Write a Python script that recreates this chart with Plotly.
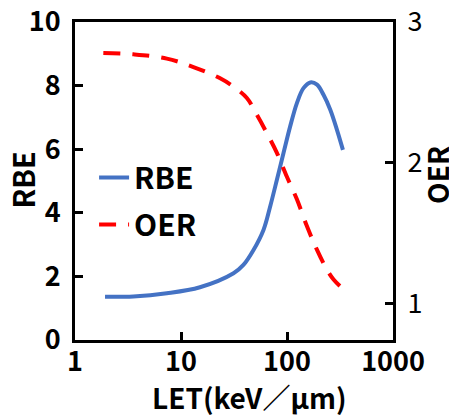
import plotly.graph_objects as go

# RBE curve (LET in keV/um)
rbe_let = [1.92, 3.55, 7.35, 15.1, 31.3, 38.8, 48.3, 60.0, 69.4, 80.3, 92.7, 107, 124, 143, 166, 192, 221, 256, 296, 337]
rbe_val = [1.36, 1.37, 1.47, 1.66, 2.10, 2.36, 2.83, 3.46, 4.20, 5.04, 5.88, 6.71, 7.45, 7.92, 8.10, 8.03, 7.71, 7.24, 6.61, 5.98]

# OER curve
oer_let = [1.85, 3.55, 7.35, 13.1, 23.4, 31.3, 41.8, 52.0, 64.6, 80.3, 99.8, 124, 154, 192, 238, 275, 330]
oer_val = [2.78, 2.77, 2.74, 2.68, 2.60, 2.54, 2.46, 2.34, 2.21, 2.07, 1.90, 1.74, 1.55, 1.38, 1.24, 1.17, 1.11]

x_ticks = [1, 10, 100, 1000]
rbe_ticks = [0, 2, 4, 6, 8, 10]
oer_ticks = [1, 2, 3]

FONT = "Noto Sans CJK JP"
W, H = 449, 417
ml, mr, mt, mb = 75, 56, 22, 77

fig = go.Figure()
fig.add_trace(go.Scatter(x=rbe_let, y=rbe_val, mode="lines", name="RBE",
                         line=dict(color="#4472C4", width=4, shape="spline"),
                         legendgroup="a"))
fig.add_trace(go.Scatter(x=oer_let, y=oer_val, mode="lines", name="OER", yaxis="y2",
                         line=dict(color="#FF0000", width=4, dash="17px,12px", shape="spline"),
                         legendgroup="b"))

axis_common = dict(showgrid=False, zeroline=False, showline=True, linecolor="black",
                   linewidth=3, ticks="inside", ticklen=8, tickwidth=3, tickcolor="black",
                   automargin=False)

fig.update_layout(
    template="none",
    width=W, height=H,
    margin=dict(l=ml, r=mr, t=mt, b=mb, autoexpand=False),
    plot_bgcolor="white", paper_bgcolor="white",
    font=dict(family=FONT, color="black"),
    showlegend=True,
    legend=dict(x=0.06, y=0.437, xanchor="left", yanchor="middle",
                bgcolor="rgba(0,0,0,0)", font=dict(size=30, family=FONT, weight="bold"),
                tracegroupgap=5, itemwidth=30),
    xaxis=dict(type="log", range=[0, 3], tickvals=x_ticks, ticktext=[str(v) for v in x_ticks],
               mirror=True, tickfont=dict(size=27, family=FONT, weight="bold"),
               ticklabelstandoff=-4, **axis_common),
    yaxis=dict(range=[0, 10], tickvals=rbe_ticks, tickfont=dict(size=27, family=FONT, weight="bold"),
               ticklabelstandoff=6, **axis_common),
    yaxis2=dict(range=[0.74, 3], tickvals=oer_ticks, overlaying="y", side="right",
                tickfont=dict(size=27, family=FONT), ticklabelstandoff=6, **axis_common),
    annotations=[
        dict(text="LET(keV／μm)", xref="paper", yref="paper", x=0.55, y=-0.178,
             xanchor="center", yanchor="middle", showarrow=False,
             font=dict(size=28, family=FONT, weight="bold")),
        dict(text="RBE", xref="paper", yref="paper", x=-0.168, y=0.503, textangle=-90,
             xanchor="center", yanchor="middle", showarrow=False,
             font=dict(size=29, family=FONT, weight="bold")),
        dict(text="OER", xref="paper", yref="paper", x=1.136, y=0.52, textangle=-90,
             xanchor="center", yanchor="middle", showarrow=False,
             font=dict(size=28, family=FONT, weight="bold")),
    ],
)

fig.write_html("out.html", config={"displayModeBar": False},
               post_script="document.body.style.margin='0';document.body.style.overflow='hidden';")
